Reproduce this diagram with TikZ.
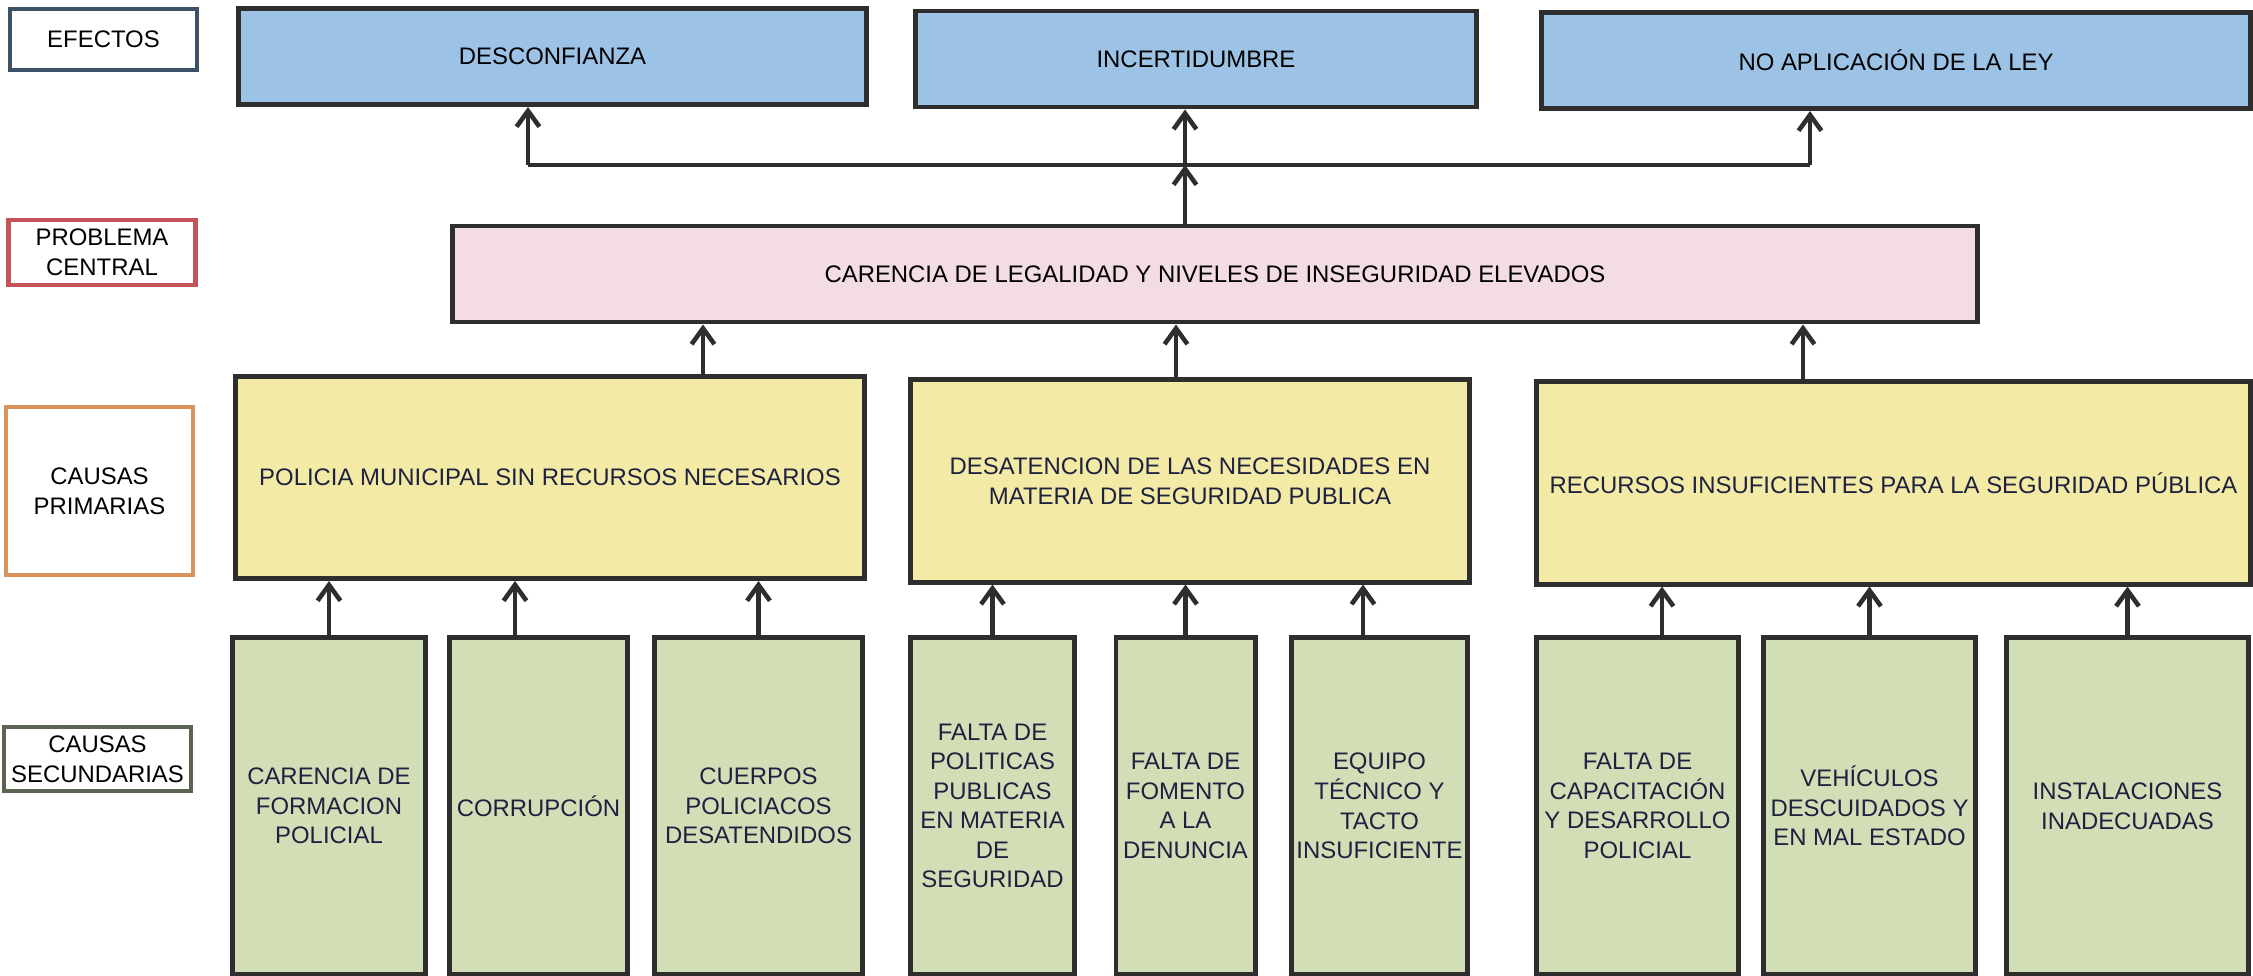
\documentclass[tikz,border=0pt]{standalone}
\usepackage{fontspec}
\setmainfont{Liberation Sans}
\usetikzlibrary{arrows.meta}
\definecolor{efectoBlue}{HTML}{9CC3E5}
\definecolor{problemaPink}{HTML}{F3DCE3}
\definecolor{causaYellow}{HTML}{F3EBA5}
\definecolor{causaGreen}{HTML}{D2DEB5}
\definecolor{borderBlue}{HTML}{3D5266}
\definecolor{borderRed}{HTML}{C4545A}
\definecolor{borderOrange}{HTML}{D9955B}
\definecolor{borderOlive}{HTML}{5B6450}
\definecolor{lineGray}{HTML}{2E2E2E}
\definecolor{textNavy}{HTML}{1E2140}
\begin{document}
\begin{tikzpicture}
[x=0.01cm,y=-0.01cm,
  arrowDecorate/.style={-{Straight Barb[length=4.5pt,width=6.5pt]},line width=1.3pt,draw=lineGray},%
  lineDecorate/.style={line width=1pt,draw=lineGray},%
  boxDecorate/.style={shape=rectangle,draw=lineGray,line width=1.4pt,inner sep=0pt,align=center},%
  labelDecorate/.style={shape=rectangle,fill=white,line width=1.2pt,inner sep=0pt,align=center,minimum width=1.87cm}]
\fontsize{6.8pt}{8.4pt}\selectfont
\useasboundingbox (0,0) rectangle (2253,976);
%% row labels
\foreach \nodename/\x/\y/\h/\col/\txt in {efectos/103.5/39.5/0.61cm/borderBlue/{EFECTOS},
  central/102/252.5/0.65cm/borderRed/{PROBLEMA\\CENTRAL},
  primarias/99.5/491/1.68cm/borderOrange/{CAUSAS\\PRIMARIAS},
  secundarias/97.5/759/0.64cm/borderOlive/{CAUSAS\\SECUNDARIAS}}
{
  \node (\nodename) at (\x,\y) [labelDecorate,draw=\col,minimum height=\h] {\txt};
}
%% effects
\foreach \nodename/\x/\y/\w/\txt in {desconf/552.5/56.5/6.27cm/{DESCONFIANZA},
  incert/1196/59/5.60cm/{INCERTIDUMBRE},
  noaplic/1896/60.5/7.08cm/{NO APLICACIÓN DE LA LEY}}
{
  \node (\nodename) at (\x,\y) [boxDecorate,fill=efectoBlue,minimum width=\w,minimum height=0.96cm] {\txt};
}
%% central problem
\node (problema) at (1215,274) [boxDecorate,fill=problemaPink,minimum width=15.24cm,minimum height=0.96cm]
  {CARENCIA DE LEGALIDAD Y NIVELES DE INSEGURIDAD ELEVADOS};
%% primary causes
\foreach \nodename/\x/\y/\w/\txt in {policia/550/477.5/6.28cm/{POLICIA MUNICIPAL SIN RECURSOS NECESARIOS},
  desatencion/1190/481/5.58cm/{DESATENCION DE LAS NECESIDADES EN\\MATERIA DE SEGURIDAD PUBLICA},
  recursos/1893.5/483/7.13cm/{RECURSOS INSUFICIENTES PARA LA SEGURIDAD PÚBLICA}}
{
  \node (\nodename) at (\x,\y) [boxDecorate,fill=causaYellow,text=textNavy,minimum width=\w,minimum height=2.02cm] {\txt};
}
%% secondary causes
\foreach \nodename/\x/\w/\txt in {carencia/329/1.92cm/{CARENCIA DE\\FORMACION\\POLICIAL},
  corrupcion/538.5/1.77cm/{CORRUPCIÓN},
  cuerpos/758.5/2.07cm/{CUERPOS\\POLICIACOS\\DESATENDIDOS},
  politicas/992.5/1.63cm/{FALTA DE\\POLITICAS\\PUBLICAS\\EN MATERIA\\DE\\SEGURIDAD},
  fomento/1185.5/1.39cm/{FALTA DE\\FOMENTO\\A LA\\DENUNCIA},
  equipo/1379.5/1.75cm/{EQUIPO\\TÉCNICO Y\\TACTO\\INSUFICIENTE},
  capacitacion/1637.5/2.01cm/{FALTA DE\\CAPACITACIÓN\\Y DESARROLLO\\POLICIAL},
  vehiculos/1869.5/2.11cm/{VEHÍCULOS\\DESCUIDADOS Y\\EN MAL ESTADO},
  instalaciones/2127.5/2.41cm/{INSTALACIONES\\INADECUADAS}}
{
  \node (\nodename) at (\x,806) [boxDecorate,fill=causaGreen,text=textNavy,minimum width=\w,minimum height=3.36cm] {\txt};
}
%% junction of the effects
\coordinate (joinL) at (528,165);
\coordinate (joinM) at (1185,165);
\coordinate (joinR) at (1810,165);
%% edges or lines
\path
(joinL) edge[lineDecorate] (joinR)
(joinL) edge[arrowDecorate] (joinL |- desconf.south)
(joinM) edge[arrowDecorate] (joinM |- incert.south)
(joinR) edge[arrowDecorate] (joinR |- noaplic.south)
(problema.north -| joinM) edge[arrowDecorate] (joinM)
(policia.north -| 703,0) edge[arrowDecorate] (problema.south -| 703,0)
(desatencion.north -| 1176,0) edge[arrowDecorate] (problema.south -| 1176,0)
(recursos.north -| 1803,0) edge[arrowDecorate] (problema.south -| 1803,0)
(carencia.north) edge[arrowDecorate] (carencia.north |- policia.south)
(corrupcion.north -| 515,0) edge[arrowDecorate] (policia.south -| 515,0)
(cuerpos.north) edge[arrowDecorate] (cuerpos.north |- policia.south)
(politicas.north) edge[arrowDecorate] (politicas.north |- desatencion.south)
(fomento.north) edge[arrowDecorate] (fomento.north |- desatencion.south)
(equipo.north -| 1363,0) edge[arrowDecorate] (desatencion.south -| 1363,0)
(capacitacion.north -| 1662,0) edge[arrowDecorate] (recursos.south -| 1662,0)
(vehiculos.north) edge[arrowDecorate] (vehiculos.north |- recursos.south)
(instalaciones.north) edge[arrowDecorate] (instalaciones.north |- recursos.south);
\end{tikzpicture}
\end{document}
